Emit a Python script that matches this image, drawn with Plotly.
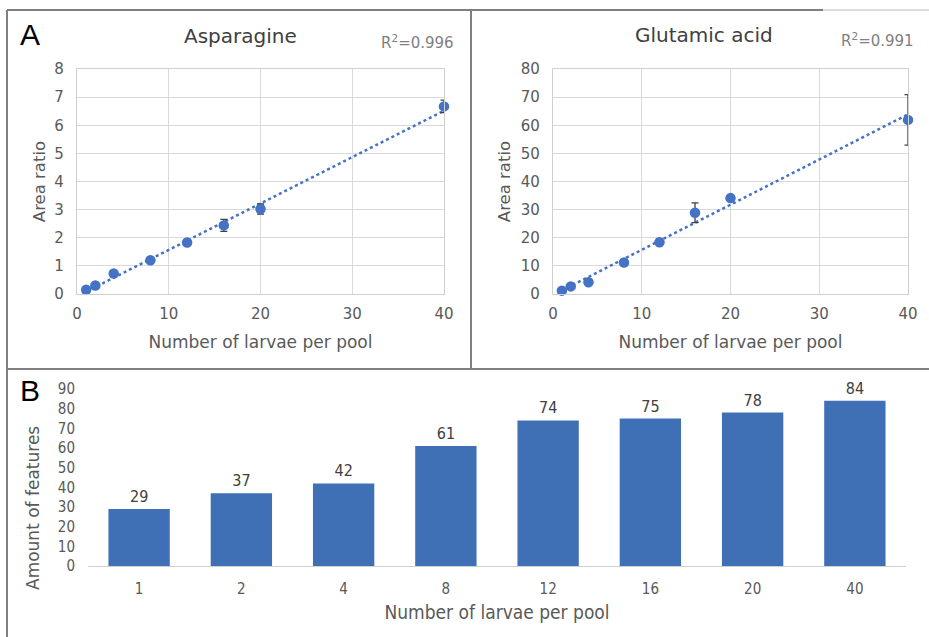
import numpy as np
import plotly.graph_objects as go

# ---- data ----
larvae = [1, 2, 4, 8, 12, 16, 20, 40]
asn_ratio = [0.15, 0.30, 0.73, 1.20, 1.83, 2.44, 3.02, 6.67]
asn_err = [0.04, 0.04, 0.05, 0.05, 0.06, 0.21, 0.18, 0.22]
glu_ratio = [1.2, 2.7, 4.2, 11.2, 18.4, 28.9, 34.1, 61.9]
glu_err = [0.5, 0.5, 0.8, 1.0, 1.2, 3.5, 1.0, 9.0]
asn_r2 = "R<sup>2</sup>=0.996"
glu_r2 = "R<sup>2</sup>=0.991"
bar_cats = ["1", "2", "4", "8", "12", "16", "20", "40"]
features = [29, 37, 42, 61, 74, 75, 78, 84]

W, H = 929, 637
BLUE = "#4472C4"
BAR = "#3F70B6"
TXT = "#595959"
FONT = "DejaVu Sans"
NARROW = "DejaVu Sans Condensed"

def px(x):
    return x / W

def py(y):
    return 1 - y / H

fig = go.Figure()

for i, (ys, es) in enumerate([(asn_ratio, asn_err), (glu_ratio, glu_err)]):
    xa = "x" if i == 0 else "x2"
    ya = "y" if i == 0 else "y2"
    slope, icpt = np.polyfit(larvae, ys, 1)
    xt = [larvae[0], larvae[-1]]
    fig.add_trace(go.Scatter(
        x=xt, y=[slope * v + icpt for v in xt], mode="lines",
        line=dict(color=BLUE, width=2.5, dash="dot"),
        xaxis=xa, yaxis=ya, showlegend=False, hoverinfo="skip"))
    fig.add_trace(go.Scatter(
        x=larvae, y=ys, mode="markers",
        marker=dict(color=BLUE, size=10.5),
        error_y=dict(type="data", array=es, visible=True, color="#404040",
                     thickness=1.3, width=3.5),
        cliponaxis=False,
        xaxis=xa, yaxis=ya, showlegend=False))

fig.add_trace(go.Bar(
    x=bar_cats, y=features, marker=dict(color=BAR, line=dict(width=0)),
    text=[str(v) for v in features], textposition="outside",
    textfont=dict(family=NARROW, size=16, color="#404040"),
    cliponaxis=False, xaxis="x3", yaxis="y3", showlegend=False))

grid = "#D9D9D9"
common_x = dict(range=[0, 40], dtick=10, showgrid=True, gridcolor=grid, gridwidth=1.3,
                zeroline=False, showline=True, linecolor="#CFCFCF", linewidth=1.3, mirror=True,
                ticks="", automargin=False, ticklabelstandoff=6,
                tickfont=dict(family=FONT, size=15, color=TXT),
                title=dict(text="Number of larvae per pool",
                           font=dict(family=FONT, size=17, color=TXT), standoff=13))
common_y = dict(showgrid=True, gridcolor=grid, gridwidth=1.3, zeroline=False, automargin=False,
                showline=True, linecolor="#CFCFCF", linewidth=1.3, mirror=True, ticks="",
                ticklabelstandoff=9, tickfont=dict(family=FONT, size=15, color=TXT))
fig.update_layout(
    template="none",
    width=W, height=H, margin=dict(l=0, r=0, t=0, b=0, autoexpand=False),
    paper_bgcolor="white", plot_bgcolor="white", bargap=0.4,
    xaxis=dict(domain=[px(77), px(444)], anchor="y", **common_x),
    yaxis=dict(domain=[py(294), py(69)], anchor="x", range=[0, 8], dtick=1, **common_y,
               title=dict(text="Area ratio", font=dict(family=FONT, size=16.5, color=TXT), standoff=4)),
    xaxis2=dict(domain=[px(553), px(908)], anchor="y2", **common_x),
    yaxis2=dict(domain=[py(294), py(69)], anchor="x2", range=[0, 80], dtick=10, **common_y,
                title=dict(text="Area ratio", font=dict(family=FONT, size=16.5, color=TXT), standoff=5)),
    xaxis3=dict(domain=[px(88), px(906)], anchor="y3", type="category", automargin=False,
                showgrid=False, zeroline=False, showline=True, linecolor="#D0D0D0", linewidth=1.3,
                ticks="", ticklabelstandoff=9, tickfont=dict(family=NARROW, size=15, color=TXT),
                title=dict(text="Number of larvae per pool",
                           font=dict(family=NARROW, size=19, color=TXT), standoff=8)),
    yaxis3=dict(domain=[py(566), py(389)], anchor="x3", range=[0, 90], dtick=10, automargin=False,
                showgrid=False, zeroline=False, showline=False, ticks="", ticklabelstandoff=12,
                tickfont=dict(family=NARROW, size=15, color=TXT)),
)

annots = [
    dict(text="Asparagine", x=px(240), y=py(36), font=dict(family=FONT, size=20, color="#404040")),
    dict(text="Glutamic acid", x=px(704), y=py(35), font=dict(family=FONT, size=20, color="#404040")),
    dict(text=asn_r2, x=px(417), y=py(42), font=dict(family=FONT, size=15, color="#7F7F7F")),
    dict(text=glu_r2, x=px(877), y=py(40), font=dict(family=FONT, size=15, color="#7F7F7F")),
    dict(text="A", x=px(30), y=py(34), font=dict(family="Liberation Sans", size=30, color="black")),
    dict(text="B", x=px(30), y=py(390), font=dict(family="Liberation Sans", size=30, color="black")),
    dict(text="Amount of features", x=px(33), y=py(508), textangle=-90,
         font=dict(family=FONT, size=17, color=TXT)),
]
for a in annots:
    fig.add_annotation(xref="paper", yref="paper", showarrow=False,
                       xanchor="center", yanchor="middle", **a)

border = "#7F7F7F"
shapes = [
    dict(x0=px(7), x1=px(823), y0=py(10), y1=py(10)),
    dict(x0=px(7), x1=px(7), y0=py(10), y1=py(637)),
    dict(x0=px(471), x1=px(471), y0=py(10), y1=py(369)),
    dict(x0=px(7), x1=px(929), y0=py(369), y1=py(369)),
]
for s in shapes:
    fig.add_shape(type="line", xref="paper", yref="paper",
                  line=dict(color=border, width=2), **s)
fig.add_shape(type="line", xref="paper", yref="paper", x0=px(823), x1=px(929), y0=py(10), y1=py(10),
              line=dict(color="#D0D0D0", width=1.3))

fig.write_html("out.html", config={"displayModeBar": False},
               post_script="document.body.style.margin='0';")
